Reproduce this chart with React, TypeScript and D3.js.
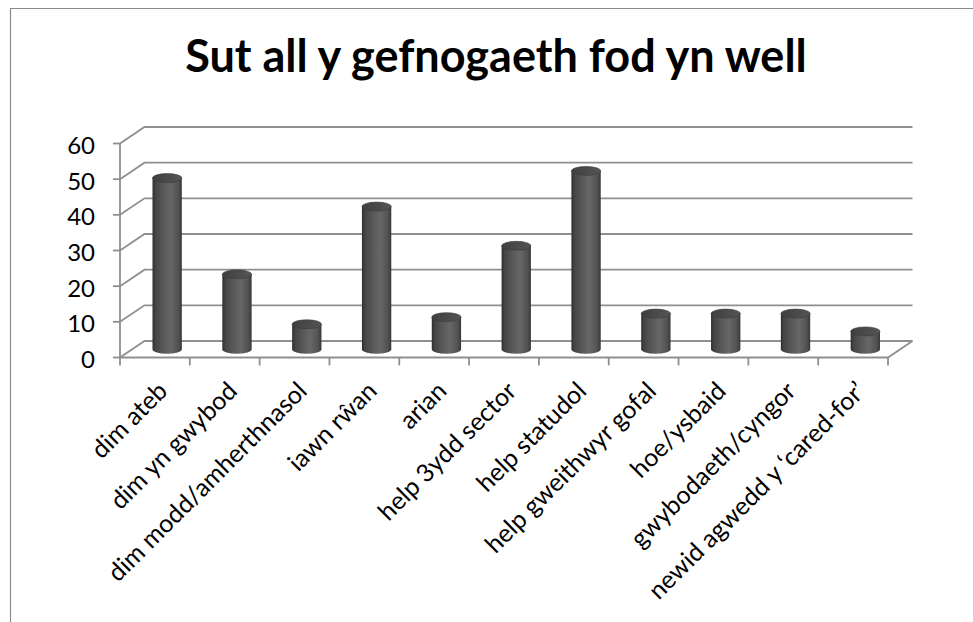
import React from 'react';
import * as d3 from 'd3';

const categories = [
  'dim ateb',
  'dim yn gwybod',
  'dim modd/amherthnasol',
  'iawn rŵan',
  'arian',
  'help 3ydd sector',
  'help statudol',
  'help gweithwyr gofal',
  'hoe/ysbaid',
  'gwybodaeth/cyngor',
  'newid agwedd y ‘cared-for’'
];
const values = [48, 21, 7, 40, 9, 29, 50, 10, 10, 10, 5];
const yTicks = [0, 10, 20, 30, 40, 50, 60];
const title = 'Sut all y gefnogaeth fod yn well';

const W = 973;
const H = 622;
const FONT = 'Lato, "Open Sans", sans-serif';

// depth of the 3d box: back wall sits up and right of the front plane
const DX = 24.5;
const DY = -16.5;

export default function App() {
  const x = d3
    .scaleBand<string>()
    .domain(categories)
    .range([120, 888]);

  // y on the back wall
  const yBack = d3.scaleLinear().domain([0, 60]).range([341, 127]);
  const yFront = (v: number) => yBack(v) - DY;
  const yMid = (v: number) => yBack(v) - DY / 2;

  const r = x.bandwidth() * 0.21;
  const ry = 4.5;
  const grid = '#8f8f8f';

  return (
    <svg
      width={W}
      height={H}
      style={{ position: 'absolute', left: 0, top: 0, background: '#fff' }}
    >
      <defs>
        <linearGradient id="cyl" x1="0" x2="1" y1="0" y2="0">
          <stop offset="0%" stopColor="#2f2f2f" />
          <stop offset="10%" stopColor="#454545" />
          <stop offset="35%" stopColor="#575757" />
          <stop offset="62%" stopColor="#676767" />
          <stop offset="88%" stopColor="#525252" />
          <stop offset="100%" stopColor="#383838" />
        </linearGradient>
        <linearGradient id="cap" x1="0" x2="1" y1="0" y2="0">
          <stop offset="0%" stopColor="#3f3f3f" />
          <stop offset="100%" stopColor="#555555" />
        </linearGradient>
      </defs>

      {/* chart frame */}
      <path d={`M10.5,${H} L10.5,8.5 L${W},8.5`} fill="none" stroke="#8a8a8a" strokeWidth={1.2} />

      <text
        x={496}
        y={72}
        textAnchor="middle"
        fontFamily={FONT}
        fontWeight="bold"
        fontSize={45}
        fill="#000"
      >
        {title}
      </text>

      {/* gridlines: side wall + back wall */}
      {yTicks.map(t => (
        <path
          key={'g' + t}
          d={`M120,${yFront(t)} L${120 + DX},${yBack(t)} L${888 + DX},${yBack(t)}`}
          fill="none"
          stroke={grid}
          strokeWidth={1.8}
        />
      ))}

      {/* floor front edge and right edge */}
      <path
        d={`M120,${yFront(0)} L888,${yFront(0)} L${888 + DX},${yBack(0)}`}
        fill="none"
        stroke={grid}
        strokeWidth={1.8}
      />
      {/* value axis */}
      <line x1={120} x2={120} y1={yFront(0)} y2={yFront(60)} stroke={grid} strokeWidth={1.8} />
      {yTicks.map(t => (
        <g key={'t' + t}>
          <line x1={113} x2={120} y1={yFront(t)} y2={yFront(t)} stroke={grid} strokeWidth={1.8} />
          <text
            x={95}
            y={yFront(t) + 2}
            dy="0.35em"
            textAnchor="end"
            fontFamily={FONT}
            fontSize={24}
            fill="#000"
          >
            {t}
          </text>
        </g>
      ))}

      {/* category ticks */}
      {[...categories.map(c => x(c) as number), 888].map((px, i) => (
        <line
          key={'c' + i}
          x1={px}
          x2={px}
          y1={yFront(0)}
          y2={yFront(0) + 8}
          stroke={grid}
          strokeWidth={1.8}
        />
      ))}

      {/* cylinders */}
      {categories.map((c, i) => {
        const cx = (x(c) as number) + x.bandwidth() / 2 + DX / 2;
        const yt = yMid(values[i]);
        const yb = yMid(0);
        const x0 = cx - r;
        const x1 = cx + r;
        return (
          <g key={'b' + i}>
            <path
              d={`M${x0},${yt} L${x0},${yb} A${r},${ry} 0 0 0 ${x1},${yb} L${x1},${yt} Z`}
              fill="url(#cyl)"
            />
            <ellipse cx={cx} cy={yt} rx={r} ry={ry} fill="url(#cap)" stroke="#3a3a3a" strokeWidth={0.6} />
          </g>
        );
      })}

      {/* category labels */}
      {categories.map(c => {
        const cx = (x(c) as number) + x.bandwidth() / 2;
        return (
          <text
            key={'l' + c}
            transform={`translate(${cx + 14},${yFront(0) + 35}) rotate(-45)`}
            textAnchor="end"
            fontFamily={FONT}
            fontSize={25}
            fill="#000"
          >
            {c}
          </text>
        );
      })}
    </svg>
  );
}
